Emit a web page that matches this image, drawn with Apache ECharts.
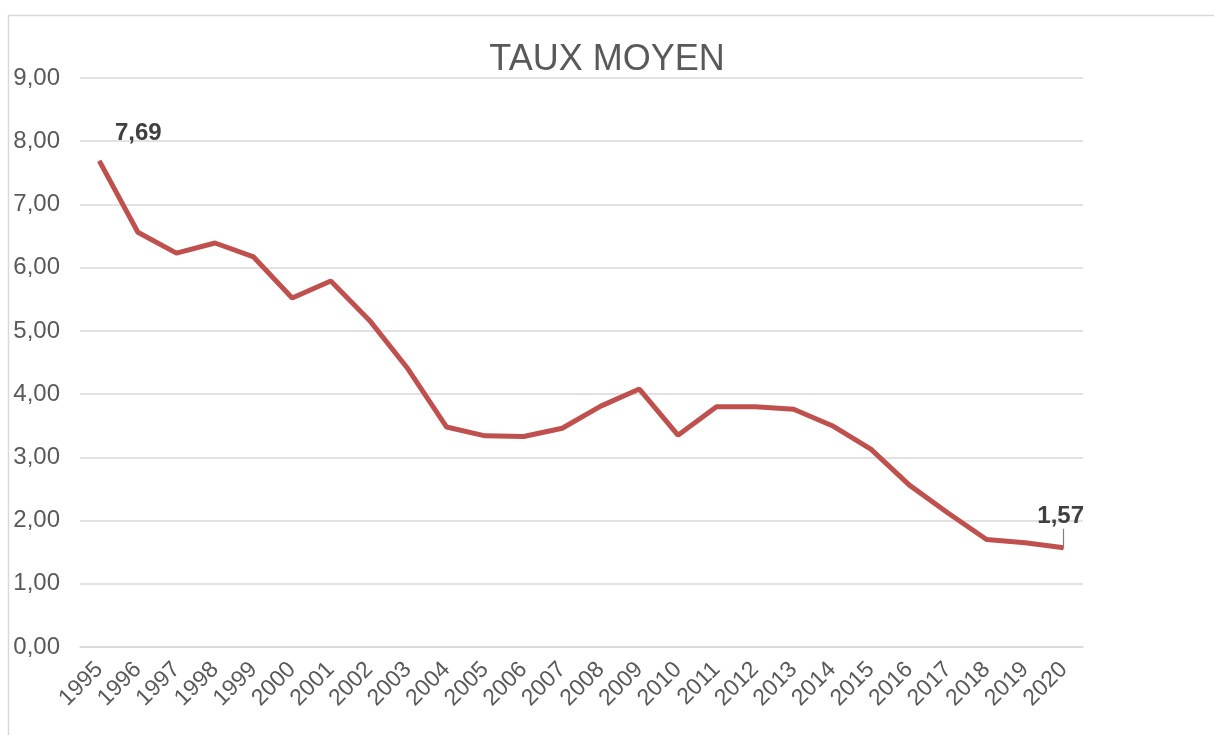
<!DOCTYPE html>
<html>
<head>
<meta charset="utf-8">
<script src="https://cdn.jsdelivr.net/npm/echarts@6/dist/echarts.min.js"></script>
<style>
  html, body { margin: 0; padding: 0; background: #fff; }
  #chart { width: 1214px; height: 735px; }
</style>
</head>
<body>
<div id="chart"></div>
<script>
// annees et taux moyen
var years = ['1995', '1996', '1997', '1998', '1999', '2000', '2001', '2002', '2003',
  '2004', '2005', '2006', '2007', '2008', '2009', '2010', '2011', '2012', '2013',
  '2014', '2015', '2016', '2017', '2018', '2019', '2020']
var taux = [7.69, 6.56, 6.23, 6.39, 6.17, 5.52, 5.79, 5.17, 4.40,
  3.48, 3.34, 3.33, 3.46, 3.81, 4.08, 3.35, 3.80, 3.80, 3.76,
  3.50, 3.13, 2.56, 2.12, 1.70, 1.65, 1.57]
var yTicks = [0, 1, 2, 3, 4, 5, 6, 7, 8, 9]

var fmt = function (v) { return v.toFixed(2).replace('.', ',') }

var chart = echarts.init(document.getElementById('chart'))

var last = taux.length - 1
var seriesData = taux.map(function (v, i) {
  if (i === 0) {
    return { value: v, label: { show: true, position: 'top', offset: [39, -10] } }
  }
  if (i === last) {
    return { value: v, label: { show: true, position: 'top', offset: [-3, -14] } }
  }
  return v
})

var option = {
  animation: false,
  backgroundColor: '#fff',
  textStyle: { fontFamily: 'Liberation Sans, Arial, sans-serif' },
  graphic: [{
    type: 'rect',
    shape: { x: 8.5, y: 15.5, width: 1300, height: 800 },
    style: { fill: 'none', stroke: '#d9d9d9', lineWidth: 1.5 },
    silent: true
  }],
  title: {
    text: 'TAUX MOYEN',
    left: 'center',
    top: 37,
    textStyle: { color: '#595959', fontSize: 36, fontWeight: 'normal' }
  },
  grid: { left: 80, right: 131, top: 78, bottom: 88 },
  xAxis: {
    type: 'category',
    data: years,
    boundaryGap: true,
    axisLine: { lineStyle: { color: '#d9d9d9', width: 1.5 } },
    axisTick: { show: false },
    axisLabel: { rotate: 45, color: '#595959', fontSize: 23, margin: 19, interval: 0 }
  },
  yAxis: {
    type: 'value',
    min: yTicks[0],
    max: yTicks[yTicks.length - 1],
    interval: 1,
    axisLine: { show: false },
    axisTick: { show: false },
    splitLine: { lineStyle: { color: '#d9d9d9', width: 1.5 } },
    axisLabel: { color: '#595959', fontSize: 24, margin: 20, formatter: fmt }
  },
  series: [{
    type: 'line',
    data: seriesData,
    symbol: 'circle',
    symbolSize: 1,
    showAllSymbol: true,
    lineStyle: { color: '#C0504D', width: 5 },
    itemStyle: { color: '#C0504D' },
    label: {
      show: false,
      color: '#404040',
      fontSize: 24,
      fontWeight: 'bold',
      formatter: function (p) { return fmt(p.value) }
    },
    // petit trait de rappel pour la derniere etiquette
    markLine: {
      silent: true,
      symbol: 'none',
      label: { show: false },
      lineStyle: { color: '#808080', width: 1.2, type: 'solid' },
      data: [[
        { coord: [years[last], taux[last]] },
        { coord: [years[last], taux[last] + 0.3] }
      ]]
    }
  }]
}

chart.setOption(option)
</script>
</body>
</html>
